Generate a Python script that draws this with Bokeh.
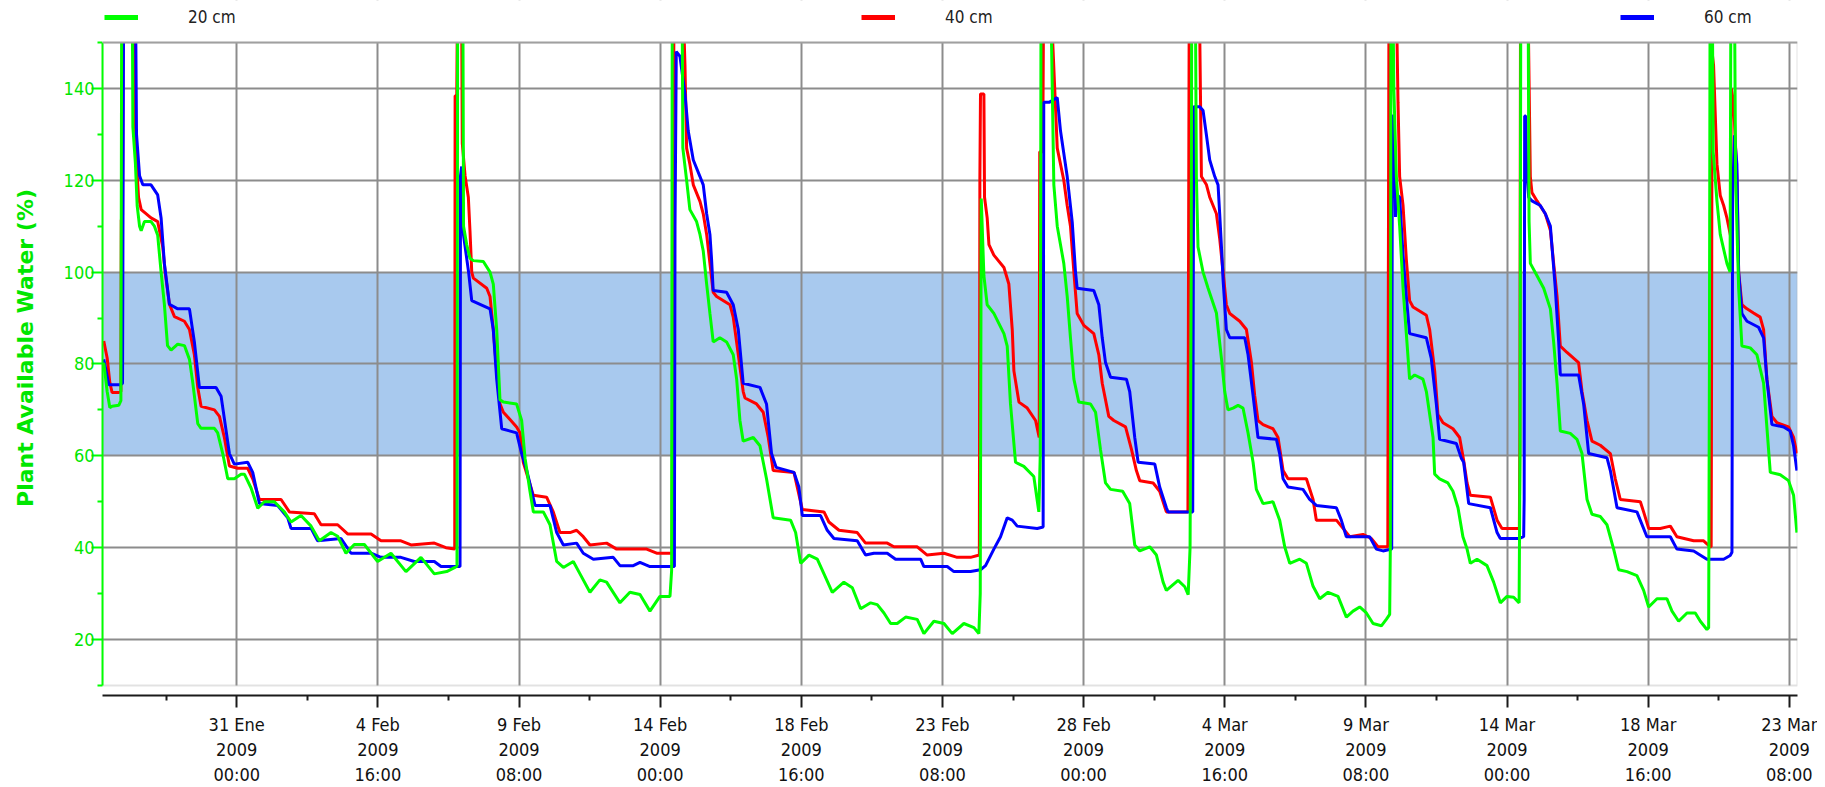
from bokeh.plotting import figure
from bokeh.models import Range1d, FixedTicker, BoxAnnotation, Legend, LegendItem, Span
from bokeh.embed import file_html
from bokeh.resources import INLINE

# x axis: hours since 2009-01-31 00:00
TICK_HOURS = [0, 112, 224, 336, 448, 560, 672, 784, 896, 1008, 1120, 1232]
TICK_LABELS = ["31 Ene\n2009\n00:00", "4 Feb\n2009\n16:00", "9 Feb\n2009\n08:00",
               "14 Feb\n2009\n00:00", "18 Feb\n2009\n16:00", "23 Feb\n2009\n08:00",
               "28 Feb\n2009\n00:00", "4 Mar\n2009\n16:00", "9 Mar\n2009\n08:00",
               "14 Mar\n2009\n00:00", "18 Mar\n2009\n16:00", "23 Mar\n2009\n08:00"]
Y_TICKS = [20, 40, 60, 80, 100, 120, 140]
Y_MINOR = [10, 30, 50, 70, 90, 110, 130, 150]
X_MIN, X_MAX = -106.5, 1238.5
Y_MIN, Y_MAX = 10, 150
BAND_LOW, BAND_HIGH = 60, 100
NAMES = ["20 cm", "40 cm", "60 cm"]

# readings above 150 run off the top of the chart
H20 = [-105.5, -102.8, -100.7, -98.9, -93.6, -91.9, -91.6, -91.3, -82.8, -82.4, -80.4, -79.0, -77.1, -75.8,
       -73.2, -68.0, -65.3, -62.7, -60.0, -57.4, -54.9, -52.1, -46.8, -41.5, -37.5, -34.9, -30.9, -28.3,
       -17.7, -15.1, -11.1, -7.1, -1.9, 3.4, 6.1, 11.4, 16.7, 21.9, 29.9, 37.8, 43.1, 51.0, 59.0, 65.6,
       74.8, 80.1, 86.7, 93.3, 101.3, 111.8, 122.4, 134.3, 146.2, 156.8, 166.6, 173.2, 174.8, 175.3,
       179.5, 180.0, 182.5, 185.1, 187.8, 195.7, 201.0, 203.6, 206.3, 208.9, 211.6, 222.1, 226.1, 228.8,
       232.7, 235.4, 243.3, 248.6, 253.9, 259.2, 267.1, 272.4, 280.3, 288.2, 293.5, 304.1, 312.0, 320.0,
       327.9, 335.8, 343.8, 345.1, 345.6, 353.5, 354.0, 357.0, 359.6, 364.9, 367.6, 370.2, 372.9, 375.5,
       378.1, 383.4, 388.7, 394.0, 396.7, 399.3, 401.9, 409.9, 415.2, 420.4, 425.7, 439.5, 443.5, 447.5,
       454.1, 460.7, 466.0, 472.6, 481.8, 488.5, 495.1, 503.0, 508.3, 513.6, 518.9, 524.1, 530.8, 540.0,
       545.3, 553.2, 561.2, 567.8, 577.0, 585.0, 588.9, 590.0, 590.8, 592.9, 595.5, 600.8, 608.8, 611.4,
       614.0, 618.0, 624.6, 632.5, 636.5, 637.6, 638.2, 646.2, 648.4, 651.1, 656.3, 659.0, 661.6, 664.3,
       668.2, 677.5, 681.5, 685.4, 689.4, 693.4, 703.0, 708.6, 712.6, 716.6, 724.5, 729.8, 735.1, 737.7,
       747.0, 752.3, 755.0, 756.5, 757.4, 757.8, 760.8, 761.5, 762.8, 766.8, 770.8, 777.4, 781.4, 784.0,
       786.6, 790.6, 794.6, 798.5, 802.5, 806.5, 809.1, 814.4, 822.3, 827.6, 831.6, 835.6, 843.5, 848.8,
       854.1, 859.4, 866.0, 873.9, 880.5, 885.8, 891.1, 896.4, 901.7, 908.3, 912.2, 914.9, 915.4, 915.9,
       917.6, 918.2, 920.2, 922.8, 925.5, 928.1, 930.7, 934.7, 941.3, 944.0, 949.3, 950.6, 954.5, 961.1,
       965.1, 969.1, 973.0, 976.3, 978.9, 984.2, 992.1, 997.4, 1002.7, 1008.0, 1013.3, 1017.6, 1018.3,
       1018.9, 1024.8, 1025.5, 1026.5, 1031.8, 1037.1, 1042.4, 1045.0, 1047.7, 1050.3, 1058.2, 1063.5,
       1067.5, 1071.5, 1075.4, 1082.0, 1087.3, 1092.6, 1096.6, 1103.2, 1111.1, 1116.4, 1120.4, 1127.0,
       1134.9, 1138.9, 1144.2, 1150.8, 1157.4, 1161.4, 1166.6, 1168.0, 1168.6, 1169.1, 1171.0, 1171.6,
       1174.6, 1177.2, 1182.5, 1185.0, 1185.6, 1188.6, 1189.4, 1191.8, 1194.4, 1201.0, 1206.3, 1211.6,
       1216.9, 1224.8, 1231.4, 1235.4, 1238.0]
V20 = [80.3, 74, 70.5, 70.8, 71, 72, 111.4, 156, 156, 131.6, 123.7, 114.5, 110, 109,
       111, 111, 110, 108, 100, 93, 84, 83, 84.3, 84, 81, 76, 67, 66,
       66, 65, 60.5, 55, 55, 56, 56, 53, 48.6, 50, 50, 47.8, 45.6, 47, 44.7, 41.5,
       43.3, 42.5, 38.8, 40.7, 40.7, 37, 38.8, 34.8, 37.9, 34.3, 34.8, 35.7, 36, 156,
       156, 110, 106, 103, 102.5, 102.3, 100, 97.4, 87.5, 72.2, 71.7, 71.3, 67.7, 59.5,
       52.3, 47.8, 47.8, 45, 37, 35.7, 37, 34.3, 30.3, 33, 32.5, 28, 30.3, 29.8,
       26.2, 29.4, 29.4, 35, 156, 156, 127, 120, 113.6, 111, 108.2, 104.6, 97.4, 91,
       84.8, 85.7, 84.8, 82, 76.7, 67.7, 63.2, 64, 62.2, 55, 46.5, 46, 43.3, 36.6,
       38.4, 37.5, 34.3, 30.3, 32.5, 31.3, 26.7, 28, 27.6, 25.8, 23.5, 23.5, 24.9, 24.4,
       21.3, 24, 23.5, 21.3, 23.5, 22.6, 21.3, 30, 116, 99.2, 92.9, 91, 86.6, 83.9,
       71.3, 58.6, 57.7, 55.5, 47.8, 60, 156, 156, 119, 110, 101.9, 94.7, 85.7, 76.7,
       71.7, 71.3, 69.5, 61.4, 54.1, 52.7, 52.3, 49.6, 40.6, 39.3, 40.2, 38.4, 32.5, 30.7,
       32.9, 31.5, 29.8, 40, 100, 156, 156, 120.8, 105.5, 100, 96.5, 91.1, 81.2, 74,
       70, 70.4, 71, 70.4, 65, 58.6, 52.7, 49.6, 50, 46, 40.2, 36.6, 37.5, 36.6,
       31.6, 28.9, 30.3, 29.4, 24.9, 26.2, 27.1, 25.8, 23.5, 23, 24.4, 25.5, 40, 156,
       156, 139.7, 120.8, 110, 96.5, 86.6, 76.7, 77.6, 76.7, 74, 64, 56, 55, 54.1,
       52.3, 48.7, 42.4, 39.7, 36.6, 37.5, 36.1, 32.5, 28, 29.4, 29.2, 28, 60,
       156, 156, 111, 101.9, 99.2, 96.5, 92, 84.8, 75.8, 65.4, 64.9, 63.6,
       60.5, 50.5, 47.3, 46.8, 45, 39.7, 35.2, 34.8, 33.9, 30.7, 27.1, 28.9,
       28.9, 26.2, 24, 25.8, 25.8, 24, 22.2, 22.6, 80, 156, 156, 126.2,
       115.4, 108.2, 101.9, 100, 156, 156, 120, 96.5, 83.9, 83.5, 82, 75.8,
       56.4, 55.9, 54.6, 51.4, 43.3]

H40 = [-105.5, -102.8, -100.7, -98.9, -93.6, -91.9, -91.6, -90.6, -90.2, -80.8, -80.2, -77.9, -75.8,
       -68.0, -62.7, -58.7, -56.8, -53.4, -49.4, -41.5, -37.5, -33.6, -30.9, -28.3, -17.7, -13.7, -9.8,
       -5.8, 0.8, 8.7, 12.7, 18.0, 35.2, 41.8, 61.6, 66.9, 80.1, 88.0, 106.6, 114.5, 130.3, 138.3, 156.8,
       166.0, 173.0, 173.3, 174.6, 175.1, 178.5, 179.0, 181.2, 183.8, 185.1, 186.5, 187.8, 198.4, 201.0,
       203.6, 206.3, 208.9, 211.6, 222.1, 224.8, 227.4, 231.4, 235.4, 245.9, 251.2, 256.5, 264.5, 269.7,
       275.0, 280.3, 293.5, 301.5, 325.3, 333.2, 345.5, 346.2, 347.0, 354.5, 355.7, 357.0, 359.6, 362.3,
       367.6, 370.2, 372.9, 375.5, 378.1, 380.8, 391.4, 394.0, 399.3, 401.9, 403.3, 412.5, 417.8, 421.8,
       425.7, 442.2, 444.8, 448.8, 466.0, 469.9, 477.9, 492.4, 499.0, 516.2, 521.5, 540.0, 547.9, 561.2,
       571.7, 582.3, 589.3, 589.7, 590.2, 592.9, 593.4, 595.5, 596.9, 600.8, 608.8, 612.7, 615.4, 616.7,
       620.7, 627.3, 633.9, 636.8, 637.2, 639.6, 640.2, 646.6, 651.1, 656.3, 659.0, 661.6, 664.3, 666.9,
       672.2, 680.1, 684.1, 686.8, 692.0, 696.0, 705.3, 710.0, 713.9, 716.6, 727.2, 732.4, 737.7, 754.8,
       755.2, 755.8, 764.0, 765.5, 769.5, 772.1, 777.4, 780.0, 782.7, 785.3, 788.0, 795.9, 801.2, 805.2,
       807.8, 810.4, 814.4, 822.3, 826.3, 830.3, 834.2, 848.8, 854.1, 856.7, 872.6, 877.9, 883.2, 893.7,
       900.3, 905.6, 913.4, 913.8, 914.3, 920.4, 921.5, 922.8, 925.5, 928.1, 930.7, 933.4, 944.0, 946.6,
       950.6, 953.2, 957.2, 965.1, 970.4, 973.6, 976.3, 978.9, 994.8, 1000.1, 1004.0, 1017.8, 1018.2,
       1018.7, 1024.8, 1026.5, 1027.8, 1031.8, 1038.4, 1042.4, 1045.0, 1047.7, 1050.3, 1055.6, 1064.8,
       1067.5, 1071.5, 1075.4, 1082.0, 1090.0, 1093.9, 1097.9, 1113.8, 1116.4, 1120.4, 1129.6, 1137.6,
       1142.8, 1156.1, 1164.0, 1169.3, 1170.0, 1170.3, 1170.7, 1171.9, 1174.6, 1177.2, 1179.9, 1182.5,
       1185.3, 1186.0, 1187.8, 1190.4, 1191.8, 1194.4, 1198.4, 1203.6, 1208.9, 1211.6, 1214.2, 1218.2,
       1222.2, 1231.4, 1235.4, 1238.0]
V40 = [85, 81.3, 76, 73.8, 73.8, 74, 111.4, 111.4, 156, 156, 127, 116.3, 113.6,
       111.8, 111, 105.5, 100, 93, 90.3, 89.3, 87.5, 82, 74.9, 70.8, 70, 68.6, 64,
       57.8, 57.3, 57.3, 55, 50.5, 50.5, 47.8, 47.4, 45, 45, 43, 43, 41.5, 41.5, 40.6, 41,
       40, 39.7, 138.4, 138.4, 156, 156, 128, 121, 116.3, 109, 100, 98.7, 96.5, 94.7,
       87.5, 78.5, 71.3, 69.5, 66.3, 65, 58.6, 55, 51.4, 51, 47.8, 43.3, 43.3, 43.8,
       42.4, 40.6, 41, 39.7, 39.7, 38.8, 38.8, 120, 156, 156, 145, 127, 123.5, 119,
       115.4, 112.7, 108.2, 101.9, 95.6, 94.7, 92.9, 90.2, 79.4, 74, 72.6, 71.3, 69.5, 64,
       56.8, 56.4, 53.2, 48.3, 47.8, 45.6, 43.8, 43.3, 41, 41, 40.2, 40.2, 38.4, 38.8,
       37.9, 37.9, 38.4, 120, 138.8, 138.8, 116.3, 111.8, 106, 103.7, 101, 97.4, 87.5, 78.5,
       71.7, 70.4, 67.7, 64, 126.2, 126.2, 156, 156, 127, 120, 114.5, 110, 100, 91,
       88.4, 86.6, 82, 75.8, 68.6, 67.7, 66.3, 61.4, 56.8, 54.6, 54.1, 52.3, 47.8, 47.8,
       93.8, 156, 156, 120.8, 119, 116.3, 112.7, 107.3, 100, 92.9, 91, 89.3, 87.5, 80.3,
       73.1, 67.7, 66.8, 65.9, 64, 56.8, 55, 55, 50.5, 46, 46, 44.2, 42.4, 42.9,
       42, 40.2, 40.2, 93.8, 156, 156, 137, 120.8, 114.5, 102.8, 93.8, 92.4, 90.6, 87.5,
       78.5, 69, 67.2, 65.9, 64, 59, 54.1, 51.4, 51, 46, 44.2, 44.2, 65.8,
       156, 156, 120.8, 117.3, 115.5, 112.7, 109.1, 101.9, 94.7, 83.9, 82.5, 80.3,
       74, 67.7, 63.2, 62.3, 60.5, 55, 50.5, 50, 47.8, 44.2, 44.2, 44.7,
       42.4, 41.5, 41.5, 40.2, 40.2, 77.6, 148, 145, 123.5, 116.7, 114.5, 111.8,
       108, 140, 137, 120.8, 100, 92.9, 92, 91.1, 90.2, 87.5, 76.7, 68.6,
       67.2, 66.3, 64, 60.5]

H60 = [-105.5, -101.5, -92.0, -90.6, -90.4, -89.8, -80.2, -79.5, -77.1, -74.5, -68.0, -62.7, -60.0,
       -57.4, -53.4, -46.8, -37.5, -33.6, -29.6, -16.4, -12.4, -5.8, -1.9, 8.7, 12.7, 18.0, 32.5, 40.5,
       43.1, 59.0, 64.2, 82.8, 90.7, 106.6, 114.5, 130.3, 140.9, 156.8, 162.1, 177.2, 177.6, 178.5,
       180.0, 182.0, 184.0, 186.5, 201.0, 203.6, 206.3, 210.3, 222.1, 226.1, 230.1, 236.7, 248.6, 253.9,
       259.2, 269.7, 275.0, 283.0, 298.8, 304.1, 314.7, 320.0, 327.9, 347.3, 347.8, 348.8, 351.7, 355.7,
       358.3, 362.3, 367.6, 370.2, 372.9, 375.5, 376.8, 378.1, 388.7, 394.0, 398.0, 401.9, 415.2, 420.4,
       424.4, 428.0, 442.2, 446.1, 448.8, 463.3, 468.6, 473.9, 492.4, 499.0, 505.6, 516.2, 522.8, 542.7,
       545.3, 563.8, 569.1, 582.3, 590.2, 594.2, 600.8, 606.1, 611.4, 615.4, 619.3, 635.2, 639.9, 640.4,
       645.0, 651.1, 653.7, 659.0, 663.0, 665.6, 666.9, 680.1, 684.1, 686.8, 689.4, 693.4, 706.0, 708.6,
       712.6, 715.3, 728.5, 732.4, 737.7, 739.0, 758.6, 758.9, 759.4, 764.2, 766.8, 769.5, 772.1, 776.1,
       778.7, 780.0, 781.4, 782.7, 785.3, 788.0, 799.9, 802.5, 806.5, 810.4, 825.0, 827.6, 830.3, 834.2,
       846.1, 851.4, 856.7, 872.6, 876.5, 880.5, 899.0, 904.3, 909.6, 916.5, 917.0, 918.5, 919.5, 920.2,
       922.8, 925.5, 928.1, 930.7, 944.0, 947.9, 951.9, 954.5, 967.8, 971.7, 973.6, 977.6, 994.8, 1000.1,
       1002.7, 1017.3, 1021.2, 1021.6, 1022.0, 1022.8, 1023.5, 1025.2, 1027.8, 1034.4, 1038.4, 1042.4,
       1046.3, 1049.0, 1050.3, 1064.8, 1068.8, 1072.8, 1087.3, 1090.0, 1095.3, 1111.1, 1119.0, 1137.6,
       1142.8, 1156.1, 1166.6, 1179.9, 1185.1, 1186.5, 1187.0, 1188.5, 1190.4, 1191.8, 1194.4, 1198.4,
       1207.6, 1211.6, 1214.2, 1218.2, 1227.5, 1232.7, 1235.4, 1238.0]
V60 = [81, 75.5, 75.5, 75.8, 94, 156, 156, 130, 121, 119, 119, 116.8, 111.8,
       101.9, 93, 92, 92, 84.8, 74.9, 74.9, 73, 60.5, 58.2, 58.6, 56.4, 49.6, 49.2, 46.5,
       44.2, 44.2, 41.5, 42, 38.8, 38.8, 37.9, 37.9, 37, 37, 35.9, 35.9, 121, 123,
       108, 104, 100, 93.8, 92, 87.5, 76.7, 65.9, 65, 60.5, 56.9, 49.2, 49.2, 43.3,
       40.6, 41, 38.8, 37.5, 37.9, 36.1, 36.1, 36.8, 35.9, 35.9, 110, 148, 147, 138.8,
       130.7, 124.4, 120.8, 119, 112.7, 108.2, 102.8, 96, 95.6, 92.9, 87.5, 75.8, 74.9, 71.3,
       60.5, 57.5, 56.4, 53.2, 47, 47, 43.8, 42, 41.5, 38.4, 38.8, 38.8, 37.5, 37.5,
       35.9, 35.9, 34.8, 34.8, 35.2, 36.1, 39.7, 42.4, 46.5, 46, 44.7, 44.2, 44.5, 137,
       137, 138, 130.7, 120.8, 110.9, 100, 96.5, 96, 92.9, 85.7, 80.3, 77.1, 76.7, 74,
       64, 58.6, 58.2, 53.2, 48.7, 47.8, 47.8, 80, 136, 136, 135.2, 129.8, 124.4, 120.8,
       119, 112.7, 105.5, 98.3, 87.5, 85.7, 85.7, 82, 73.1, 64, 63.6, 60.5, 55, 53.2,
       52.7, 50.5, 49.2, 48.7, 46, 42.4, 42.4, 39.7, 39.3, 39.7, 134, 134, 112, 117,
       116.3, 103.7, 94.7, 86.6, 85.7, 81.2, 71.3, 63.6, 62.7, 59.5, 58.6, 49.6, 48.7, 43.3,
       42, 42, 42.4, 50.5, 134, 134, 122.5, 116.3, 115.5, 114.5, 112.7, 110,
       96.5, 84.8, 77.6, 77.6, 71.3, 60.5, 59.6, 56.8, 48.7, 47.8, 42.4, 42.4,
       39.7, 39.3, 37.5, 37.5, 38.3, 39, 116.3, 129.8, 123.5, 100, 91, 89.3,
       88, 85.7, 76.7, 66.8, 66.3, 65.4, 62.2, 56.8]

GREEN, RED, BLUE = "#00ff00", "#ff0000", "#0000ff"
TEXT_GREEN = "#00e600"
GRID = "#8c8c8c"
BORDER = "#a0a0a0"
COND = "DejaVu Sans Condensed"
LINE_W = 3

# layout (canvas pixels)
W, H = 1817, 787
B_LEFT, B_RIGHT, B_BOTTOM = 102, 20, 91
PLOT_TOP_PX, PLOT_BOTTOM_PX, AXIS_PX = 42, 686, 696   # y of value 150, value 10, x-axis line
ppu = (PLOT_BOTTOM_PX - PLOT_TOP_PX) / (Y_MAX - Y_MIN)
y_top = Y_MAX + PLOT_TOP_PX / ppu
y_low = Y_MIN - (AXIS_PX - PLOT_BOTTOM_PX) / ppu

p = figure(width=W, height=H, output_backend="svg", toolbar_location=None, title=None,
           x_range=Range1d(X_MIN, X_MAX), y_range=Range1d(y_low, y_top),
           min_border_left=B_LEFT, min_border_top=0, min_border_bottom=B_BOTTOM,
           min_border_right=B_RIGHT)
p.outline_line_color = None
p.background_fill_color = "white"
p.border_fill_color = "white"

minor_x = [TICK_HOURS[0] - (TICK_HOURS[1] - TICK_HOURS[0]) / 2] + \
          [(a + b) / 2 for a, b in zip(TICK_HOURS[:-1], TICK_HOURS[1:])]
p.xaxis.ticker = FixedTicker(ticks=TICK_HOURS, minor_ticks=minor_x)
p.xaxis.major_label_overrides = {h: lab for h, lab in zip(TICK_HOURS, TICK_LABELS)}
p.xaxis.axis_line_color = "#1a1a1a"
p.xaxis.axis_line_width = 2
p.xaxis.major_tick_line_color = "#1a1a1a"
p.xaxis.major_tick_line_width = 2
p.xaxis.minor_tick_line_color = "#1a1a1a"
p.xaxis.minor_tick_line_width = 2
p.xaxis.major_tick_in = 0
p.xaxis.major_tick_out = 12
p.xaxis.minor_tick_in = 0
p.xaxis.minor_tick_out = 5
p.xaxis.major_label_standoff = 6
p.xaxis.major_label_text_font = COND
p.xaxis.major_label_text_font_size = "18px"
p.xaxis.major_label_text_color = "#111111"
p.xaxis.major_label_text_line_height = 1.2

p.yaxis.ticker = FixedTicker(ticks=Y_TICKS, minor_ticks=Y_MINOR)
p.yaxis.bounds = (Y_MIN, Y_MAX)
p.yaxis.axis_line_color = GREEN
p.yaxis.axis_line_width = 2
p.yaxis.major_tick_line_color = GREEN
p.yaxis.major_tick_line_width = 2
p.yaxis.minor_tick_line_color = GREEN
p.yaxis.minor_tick_line_width = 2
p.yaxis.major_tick_in = 0
p.yaxis.major_tick_out = 11
p.yaxis.minor_tick_in = 0
p.yaxis.minor_tick_out = 5
p.yaxis.major_label_standoff = -3
p.yaxis.major_label_text_font = COND
p.yaxis.major_label_text_font_size = "18px"
p.yaxis.major_label_text_color = TEXT_GREEN
p.yaxis.axis_label = "Plant Available Water (%)"
p.yaxis.axis_label_text_font = "DejaVu Sans"
p.yaxis.axis_label_text_font_style = "bold"
p.yaxis.axis_label_text_font_size = "22px"
p.yaxis.axis_label_text_color = TEXT_GREEN
p.yaxis.axis_label_standoff = 23

for g in (p.xgrid, p.ygrid):
    g.grid_line_color = GRID
    g.grid_line_width = 2

# target band, blank strip under the plot box, plot box
p.add_layout(BoxAnnotation(bottom=BAND_LOW, top=BAND_HIGH, fill_color="#a8c9ee", fill_alpha=1,
                           line_color=None, level="image"))
p.add_layout(BoxAnnotation(top=Y_MIN, fill_color="white", fill_alpha=1, line_color=None,
                           level="underlay"))
p.add_layout(BoxAnnotation(bottom=Y_MIN, top=Y_MAX, fill_color=None, fill_alpha=0,
                           line_color=BORDER, line_width=2, level="underlay"))

r40 = p.line(H40, V40, line_color=RED, line_width=LINE_W)
r60 = p.line(H60, V60, line_color=BLUE, line_width=LINE_W)
r20 = p.line(H20, V20, line_color=GREEN, line_width=LINE_W)

# blank header strip above the plot box, then its top border
p.add_layout(BoxAnnotation(bottom=Y_MAX, fill_color="white", fill_alpha=1, line_color=None))
p.add_layout(Span(location=Y_MAX, dimension="width", line_color=BORDER, line_width=2))

# legend: three entries spread along the header strip (thick swatches, no visible data)
legend_x = [2, 759, 1518]
legend_bottom = AXIS_PX - 28
for name, col, lx in zip(NAMES, [GREEN, RED, BLUE], legend_x):
    swatch = p.line([float("nan")], [float("nan")], line_color=col, line_width=5)
    leg = Legend(items=[LegendItem(label=name, renderers=[swatch])],
                 location=(lx, legend_bottom), orientation="horizontal",
                 glyph_width=34, glyph_height=20, label_height=20, label_standoff=50,
                 padding=0, margin=0, spacing=0, border_line_color=None,
                 background_fill_alpha=0, label_text_font=COND, label_text_font_size="17px",
                 label_text_color="#222222")
    p.add_layout(leg, "center")

open("out.html", "w").write(file_html(p, INLINE))
